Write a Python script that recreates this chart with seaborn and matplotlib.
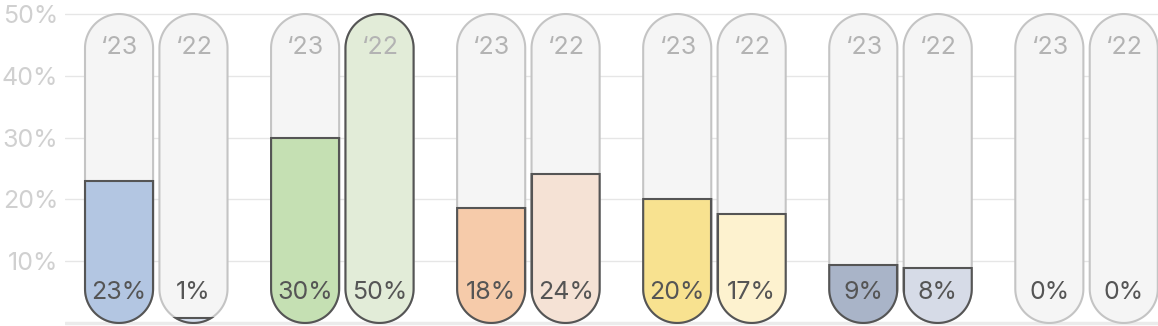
import numpy as np
import pandas as pd
import seaborn as sns
import matplotlib.pyplot as plt
from matplotlib.patches import Polygon, Rectangle

# ---------------- data ----------------
groups = ["Group 1", "Group 2", "Group 3", "Group 4", "Group 5", "Group 6"]
years = ["\u201823", "\u201822"]
values_23 = [23.0, 30.0, 18.6, 20.1, 9.4, 0.0]
values_22 = [0.8, 50.0, 24.1, 17.6, 8.9, 0.0]
labels_23 = ["23%", "30%", "18%", "20%", "9%", "0%"]
labels_22 = ["1%", "50%", "24%", "17%", "8%", "0%"]
fill_23 = ["#b3c6e2", "#c5e0b3", "#f6cbaa", "#f8e290", "#a9b4c8", "#f5f5f5"]
fill_22 = ["#d6dfee", "#e2ecd8", "#f5e2d5", "#fdf2cf", "#d6dbe7", "#f5f5f5"]
y_ticks = [10, 20, 30, 40, 50]
y_tick_labels = ["10%", "20%", "30%", "40%", "50%"]
y_max = 50

df = pd.DataFrame({
    "group": groups * 2,
    "year": [years[0]] * len(groups) + [years[1]] * len(groups),
    "value": values_23 + values_22,
})
bg = df.assign(value=y_max)

# ---------------- style ----------------
sns.set_theme(style="white")
plt.rcParams["font.family"] = ["Inter", "DejaVu Sans"]

W, H = 1158, 326
fig = plt.figure(figsize=(W / 100, H / 100), dpi=100)
ax = fig.add_axes([65 / W, 0, 1 - 65 / W, 1])

common = dict(x="group", y="value", hue="year", order=groups, hue_order=years,
              width=0.8, gap=0.085, dodge=True, legend=False, ax=ax, errorbar=None)
sns.barplot(data=bg, **common)
n_bg = len(ax.patches)
sns.barplot(data=df, **common)
bg_bars = ax.patches[:n_bg]
fill_bars = ax.patches[n_bg:]

ax.set_xlim(-0.4905, 5.384)
ax.set_ylim(-0.49, 52.27)

# pixel scale of data units
xr = ax.get_xlim()[1] - ax.get_xlim()[0]
yr = ax.get_ylim()[1] - ax.get_ylim()[0]
sx = ax.bbox.width / xr
sy = ax.bbox.height / yr


def capsule(x0, w, y0, y1, n=60):
    rx = w / 2
    ry = rx * sx / sy
    xc = x0 + rx
    t_b = np.linspace(np.pi, 2 * np.pi, n)
    t_t = np.linspace(0, np.pi, n)
    xb = xc + rx * np.cos(t_b)
    yb = y0 + ry + ry * np.sin(t_b)
    xt = xc + rx * np.cos(t_t)
    yt = y1 - ry + ry * np.sin(t_t)
    return np.column_stack([np.concatenate([xb, xt]), np.concatenate([yb, yt])])


def locate(p):
    xc = p.get_x() + p.get_width() / 2
    gi = int(round(xc))
    yi = 0 if xc < gi else 1
    return gi, yi, xc


caps = {}
for p in bg_bars:
    gi, yi, xc = locate(p)
    verts = capsule(p.get_x(), p.get_width(), 0, y_max)
    poly = Polygon(verts, closed=True, facecolor="#f5f5f5", edgecolor="#c4c4c4",
                   linewidth=1.5, zorder=1, transform=ax.transData)
    ax.add_patch(poly)
    caps[(gi, yi)] = (poly, verts, p.get_x(), p.get_width(), xc)
    p.set_visible(False)

vals = [values_23, values_22]
fills = [fill_23, fill_22]
labs = [labels_23, labels_22]

for p in fill_bars:
    gi, yi, xc = locate(p)
    poly, verts, x0, w, _ = caps[(gi, yi)]
    v = vals[yi][gi]
    if v <= 0:
        p.set_visible(False)
        continue
    p.set_facecolor(fills[yi][gi])
    p.set_edgecolor("#555555")
    p.set_linewidth(1.5)
    p.set_zorder(2)
    p.set_clip_path(poly)
    outline = Polygon(verts, closed=True, fill=False, edgecolor="#555555",
                      linewidth=1.5, zorder=3, transform=ax.transData)
    ax.add_patch(outline)
    clip = Rectangle((x0 - 0.05, -2), w + 0.1, v + 2 + 0.15, transform=ax.transData)
    outline.set_clip_path(clip)

for (gi, yi), (poly, verts, x0, w, xc) in caps.items():
    ax.text(xc, 44.6, years[yi], ha="center", va="center", fontsize=18,
            color="#b3b3b3", zorder=5)
    ax.text(xc, 5.0, labs[yi][gi], ha="center", va="center", fontsize=18,
            color="#555555", zorder=5)

# axes styling
ax.set_yticks(y_ticks)
ax.set_yticklabels(y_tick_labels)
ax.tick_params(axis="y", length=0, pad=5, labelsize=18, labelcolor="#d0d0d0")
ax.tick_params(axis="x", length=0, labelbottom=False)
ax.set_xlabel("")
ax.set_ylabel("")
ax.yaxis.grid(True, color="#e6e6e6", linewidth=1)
ax.xaxis.grid(False)
ax.set_axisbelow(True)
ax.axhline(0, color="#ebebeb", linewidth=2.5, zorder=0.5)
for s in ax.spines.values():
    s.set_visible(False)

fig.savefig("out.png", dpi=100)
